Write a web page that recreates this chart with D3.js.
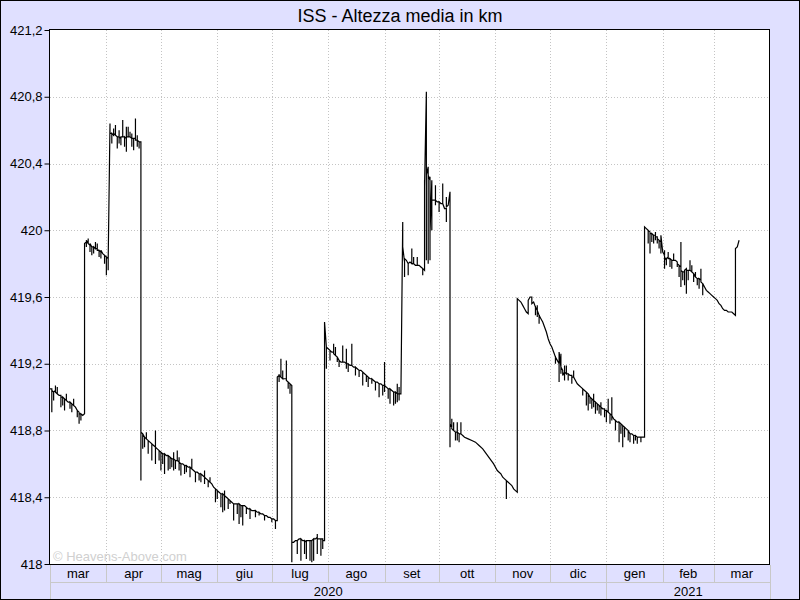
<!DOCTYPE html>
<html><head><meta charset="utf-8">
<script src="https://cdn.jsdelivr.net/npm/d3@7"></script>
<style>
html,body{margin:0;padding:0;background:#fff}
svg{display:block;font-family:Arial,"Liberation Sans",sans-serif}
</style></head><body>
<svg id="chart" width="800" height="600"></svg>
<script>
const chartTitle = "ISS - Altezza media in km";
const watermark = "\u00a9 Heavens-Above.com";
const monthLabels = ["gen","feb","mar","apr","mag","giu","lug","ago","set","ott","nov","dic"];
const yTicks = [418, 418.4, 418.8, 419.2, 419.6, 420, 420.4, 420.8, 421.2];
const yDomain = [418, 421.2];
const xDomain = ["2020-03-01", "2021-04-01"];

// Each row: date, then the altitude readings (km) of that day
const seg1 = [
["2020-03-01",419.05],["2020-03-02",419.05,418.91,419.04],["2020-03-03",419.03,418.98,419.03],
["2020-03-04",419.04,419.07,419.03],["2020-03-05",419.02,419.06,419.02],["2020-03-06",419.01],
["2020-03-07",419.01,418.94,419.00],["2020-03-08",419.00,418.95,419.00],["2020-03-09",418.99,418.92,418.99],
["2020-03-10",418.98,419.02,418.98],["2020-03-11",418.97],["2020-03-12",418.97,418.93,418.97],
["2020-03-13",418.96,418.91,418.96],["2020-03-14",418.95,418.99,418.95],["2020-03-15",418.94],
["2020-03-16",418.92,418.88,418.92],["2020-03-17",418.91,418.84,418.90],
["2020-03-18",418.90,418.86,418.90],["2020-03-19",418.89],["2020-03-20",418.90]
];
const seg2 = [
["2020-03-20",419.35,419.92],["2020-03-21",419.93,419.90,419.94],["2020-03-22",419.92,419.95,419.92],
["2020-03-23",419.91,419.87,419.92],["2020-03-24",419.90,419.85,419.90],["2020-03-25",419.90,419.86,419.90],
["2020-03-26",419.89,419.93,419.89],["2020-03-27",419.89,419.92,419.88],["2020-03-28",419.88,419.84,419.88],
["2020-03-29",419.87,419.83,419.88],["2020-03-30",419.86],["2020-03-31",419.85,419.80,419.85],
["2020-04-01",419.84,419.73,419.84],["2020-04-02",419.83,419.76,419.82]
];
const seg3 = [
["2020-04-03",420.64,420.58],["2020-04-04",420.58,420.52,420.58],["2020-04-05",420.57,420.61,420.57],
["2020-04-06",420.58,420.63,420.57],["2020-04-07",420.56,420.49,420.56],["2020-04-08",420.56,420.60,420.52,420.56],
["2020-04-09",420.55,420.51,420.56],["2020-04-10",420.56,420.66,420.56],["2020-04-11",420.56,420.50,420.56],
["2020-04-12",420.55,420.47,420.55,420.62,420.56],["2020-04-13",420.56,420.62,420.56],
["2020-04-14",420.56,420.59,420.56],["2020-04-15",420.55,420.50,420.58,420.55],["2020-04-16",420.55,420.48,420.55],
["2020-04-17",420.55,420.67,420.54],["2020-04-18",420.54,420.50,420.57,420.54],["2020-04-19",420.53,420.49,420.53],
["2020-04-20",420.53]
];
const seg4 = [
["2020-04-20",418.79,418.50,418.79],["2020-04-21",418.78,418.69,418.78],["2020-04-22",418.76,418.70,418.76],
["2020-04-23",418.75,418.79,418.75],["2020-04-24",418.74,418.66,418.74],["2020-04-25",418.73],
["2020-04-26",418.72,418.62,418.72],["2020-04-27",418.71],["2020-04-28",418.70,418.80,418.60,418.70],
["2020-04-29",418.69],["2020-04-30",418.68,418.62,418.68],["2020-05-01",418.67,418.56,418.67],
["2020-05-02",418.66,418.60,418.66],["2020-05-03",418.66,418.54,418.66],["2020-05-04",418.65],
["2020-05-05",418.65,418.56,418.65],["2020-05-06",418.64,418.57,418.64],["2020-05-07",418.63,418.58,418.63],
["2020-05-08",418.63,418.67,418.56,418.63],["2020-05-09",418.62,418.57,418.62],["2020-05-10",418.62,418.68,418.62],
["2020-05-11",418.61,418.64,418.56,418.61],["2020-05-12",418.60,418.53,418.60],["2020-05-13",418.60],
["2020-05-14",418.59,418.54,418.59],["2020-05-15",418.59,418.55,418.59],["2020-05-16",418.58],
["2020-05-17",418.58,418.52,418.58],["2020-05-18",418.57,418.63,418.57],["2020-05-19",418.56],
["2020-05-20",418.55,418.49,418.55],["2020-05-21",418.55],["2020-05-22",418.54,418.50,418.54],
["2020-05-23",418.54,418.49,418.54],["2020-05-24",418.53],["2020-05-25",418.52,418.56,418.48,418.52],
["2020-05-26",418.51],["2020-05-27",418.50,418.46,418.50],["2020-05-28",418.49,418.52,418.49],
["2020-05-29",418.48],["2020-05-30",418.46],["2020-05-31",418.45,418.37,418.45],
["2020-06-01",418.44,418.39,418.44],["2020-06-02",418.43],["2020-06-03",418.42,418.34,418.42],
["2020-06-04",418.42,418.31,418.42],["2020-06-05",418.41,418.44,418.32,418.41],["2020-06-06",418.40],
["2020-06-07",418.39,418.33,418.39],["2020-06-08",418.38,418.36,418.38],["2020-06-09",418.37],
["2020-06-10",418.36,418.26,418.36],["2020-06-11",418.36],["2020-06-12",418.36,418.30,418.36],
["2020-06-13",418.36,418.24,418.36],["2020-06-14",418.35,418.28,418.35],["2020-06-15",418.35,418.23,418.35],
["2020-06-16",418.35],["2020-06-17",418.34,418.30,418.34],["2020-06-18",418.33],
["2020-06-19",418.33,418.27,418.33],["2020-06-20",418.32],["2020-06-21",418.32],
["2020-06-22",418.32,418.28,418.32],["2020-06-23",418.31],["2020-06-24",418.31,418.29,418.31],
["2020-06-25",418.30],["2020-06-26",418.30],["2020-06-27",418.29,418.26,418.29],["2020-06-28",418.29],
["2020-06-29",418.28],["2020-06-30",418.28],["2020-07-01",418.27,418.25,418.27],
["2020-07-02",418.27],["2020-07-03",418.26,418.21,418.26],["2020-07-04",418.26]
];
const seg5 = [
["2020-07-04",419.12],["2020-07-05",419.13,419.09,419.13],["2020-07-06",419.12,419.23,419.12],
["2020-07-07",419.11,419.16,419.11],["2020-07-08",419.11],["2020-07-09",419.11,419.22,419.10],
["2020-07-10",419.09,419.05,419.09],["2020-07-11",419.08,419.02,419.08],["2020-07-12",419.07]
];
const seg6 = [
["2020-07-12",418.01,418.13],["2020-07-13",418.13],["2020-07-14",418.14],
["2020-07-15",418.14,418.06,418.14],["2020-07-16",418.15],["2020-07-17",418.15,418.02,418.15],
["2020-07-18",418.14],["2020-07-19",418.14,418.06,418.14],["2020-07-20",418.13,418.03,418.14],
["2020-07-21",418.14],["2020-07-22",418.14,418.02,418.14],["2020-07-23",418.14,418.01,418.14],
["2020-07-24",418.15,418.02,418.15],["2020-07-25",418.15],["2020-07-26",418.16,418.18,418.06,418.15],
["2020-07-27",418.15],["2020-07-28",418.15,418.05,418.15],["2020-07-29",418.15,418.09,418.14],
["2020-07-30",418.14]
];
const seg7 = [
["2020-07-30",419.36,419.45],["2020-07-31",419.30,419.17,419.30],["2020-08-01",419.29],
["2020-08-02",419.28,419.22,419.28],["2020-08-03",419.27],["2020-08-04",419.27,419.32,419.26],
["2020-08-05",419.25,419.30,419.25],["2020-08-06",419.24,419.21,419.24],["2020-08-07",419.22,419.18,419.22],
["2020-08-08",419.21],["2020-08-09",419.21,419.31,419.21],["2020-08-10",419.21],
["2020-08-11",419.20,419.29,419.17,419.20],["2020-08-12",419.20,419.15,419.20],["2020-08-13",419.19],
["2020-08-14",419.19,419.32,419.19],["2020-08-15",419.18],["2020-08-16",419.18,419.13,419.18],
["2020-08-17",419.17],["2020-08-18",419.16,419.12,419.16],["2020-08-19",419.16],
["2020-08-20",419.15,419.07,419.15],["2020-08-21",419.14],["2020-08-22",419.13,419.09,419.13],
["2020-08-23",419.12,419.06,419.12],["2020-08-24",419.11],["2020-08-25",419.11,419.08,419.11],
["2020-08-26",419.10],["2020-08-27",419.09,419.04,419.09],["2020-08-28",419.09],
["2020-08-29",419.08,419.00,419.08],["2020-08-30",419.08],["2020-08-31",419.07,419.01,419.07],
["2020-09-01",419.07,419.21,419.03,419.07],["2020-09-02",419.06],["2020-09-03",419.05,418.99,419.05],
["2020-09-04",419.05,418.96,419.05],["2020-09-05",419.04],["2020-09-06",419.03,418.95,419.03],
["2020-09-07",419.03,418.96,419.03],["2020-09-08",419.02,419.08,418.97,419.02],["2020-09-09",419.02,419.06,418.98,419.02],
["2020-09-10",419.02]
];
const seg8 = [
["2020-09-11",420.05,419.90],["2020-09-12",419.81,419.72,419.83],["2020-09-13",419.82],
["2020-09-14",419.80,419.73,419.80],["2020-09-15",419.81],["2020-09-16",419.80,419.89,419.80],
["2020-09-17",419.80,419.84,419.80],["2020-09-18",419.79],["2020-09-19",419.79,419.84,419.79],
["2020-09-20",419.79],["2020-09-21",419.78],["2020-09-22",419.77,419.73,419.77],
["2020-09-23",419.76,420.05,420.30,419.85,420.30,419.90,420.28,419.88,420.26],
["2020-09-24",420.83,420.25,419.82,420.30,419.85,420.32,419.84,420.34,419.83,420.33],
["2020-09-25",420.38,419.80,420.35,419.82,420.34,419.86,420.36,419.81,420.33],
["2020-09-26",420.30,419.82,420.32,419.90,420.30,419.95,420.29,419.98],
["2020-09-27",420.30,420.00,420.25,420.06,420.22,420.18],["2020-09-28",420.18],
["2020-09-29",420.18,420.27,420.15,420.18],["2020-09-30",420.17],
["2020-10-01",420.17,420.11,420.17],["2020-10-02",420.16],["2020-10-03",420.16,420.28,420.16],
["2020-10-04",420.13],["2020-10-05",420.13,420.05,420.20,420.14],["2020-10-06",420.15],
["2020-10-07",420.23]
];
const seg9 = [
["2020-10-07",418.86,418.70,418.84],["2020-10-08",418.82,418.87,418.81],
["2020-10-09",418.80,418.85,418.80],["2020-10-10",418.79,418.74,418.79],
["2020-10-11",418.79,418.85,418.74,418.79],["2020-10-12",418.78,418.73,418.78],
["2020-10-13",418.78,418.85,418.78],["2020-10-14",418.77],["2020-10-15",418.76],
["2020-10-17",418.75],["2020-10-19",418.74],["2020-10-21",418.73],["2020-10-23",418.71],
["2020-10-25",418.69],["2020-10-27",418.66],["2020-10-29",418.63],["2020-10-31",418.60],
["2020-11-01",418.58],["2020-11-02",418.56],["2020-11-03",418.55],["2020-11-04",418.54],
["2020-11-05",418.52],["2020-11-06",418.51],["2020-11-07",418.50,418.39,418.50],
["2020-11-08",418.49],["2020-11-09",418.48],["2020-11-10",418.47],["2020-11-11",418.45],
["2020-11-12",418.44],["2020-11-13",418.43]
];
const seg10 = [
["2020-11-13",419.59],["2020-11-14",419.58],["2020-11-15",419.57],["2020-11-16",419.55],
["2020-11-17",419.53],["2020-11-18",419.51],["2020-11-19",419.50,419.58],["2020-11-20",419.60],
["2020-11-21",419.60,419.56],["2020-11-22",419.57],["2020-11-23",419.54,419.49,419.54],
["2020-11-24",419.52,419.55,419.48,419.52],["2020-11-25",419.49,419.44,419.49],["2020-11-26",419.47],
["2020-11-27",419.45],["2020-11-28",419.42],["2020-11-29",419.39],["2020-11-30",419.35],
["2020-12-01",419.32],["2020-12-02",419.30],["2020-12-03",419.27],["2020-12-04",419.24,419.20,419.24],
["2020-12-05",419.22],["2020-12-06",419.20,419.09,419.21,419.27],["2020-12-07",419.18,419.26,419.14,419.18],
["2020-12-08",419.16,419.13],["2020-12-09",419.15,419.10,419.19,419.15],["2020-12-10",419.14,419.19,419.14],
["2020-12-11",419.14,419.10,419.14],["2020-12-12",419.13],["2020-12-13",419.13,419.08,419.12],
["2020-12-14",419.12,419.16,419.12],["2020-12-15",419.10],["2020-12-16",419.08],["2020-12-17",419.07],
["2020-12-18",419.06],["2020-12-19",419.05,419.01,419.05],["2020-12-20",419.04],
["2020-12-21",419.03,418.95,419.03],["2020-12-22",419.02,418.92,419.02],
["2020-12-23",419.00,418.96,419.00],["2020-12-24",418.99,418.93,418.99],["2020-12-25",418.98,419.02,418.94,418.98],
["2020-12-26",418.97,418.90,418.97],["2020-12-27",418.96,418.92,418.96],["2020-12-28",418.95,418.90,418.95],
["2020-12-29",418.94,418.97,418.89,418.94],["2020-12-30",418.93],["2020-12-31",418.93,418.88,418.92],
["2021-01-01",418.92,418.85,418.92],["2021-01-02",418.91,418.99,418.91],["2021-01-03",418.90,418.84,418.90],
["2021-01-04",418.89,419.00,418.86,418.89],["2021-01-05",418.87],["2021-01-06",418.86,418.80,418.86],
["2021-01-07",418.85],["2021-01-08",418.85,418.73,418.85],["2021-01-09",418.84,418.78,418.84],
["2021-01-10",418.83,418.70,418.83],["2021-01-11",418.82,418.76,418.82],["2021-01-12",418.81],
["2021-01-13",418.80,418.74,418.80],["2021-01-14",418.78,418.73,418.78],["2021-01-15",418.78],
["2021-01-16",418.77,418.72,418.77],["2021-01-17",418.77,418.74,418.77],["2021-01-18",418.76,418.72,418.76],
["2021-01-19",418.76],["2021-01-20",418.76,418.73,418.76],["2021-01-21",418.76],
["2021-01-22",418.76]
];
const seg11 = [
["2021-01-22",420.02],["2021-01-23",420.01],["2021-01-24",420.00,419.92,420.00],
["2021-01-25",419.99,419.86,419.98],["2021-01-26",419.98,419.93,419.98],["2021-01-27",419.97,419.92,419.97],
["2021-01-28",419.97,419.99,419.94,419.96],["2021-01-29",419.96,419.92,419.95],
["2021-01-30",419.94,419.89,419.94],["2021-01-31",419.93,419.86,419.93,419.97],["2021-02-01",419.87],
["2021-02-02",419.85,419.88,419.77,419.84],["2021-02-03",419.82,419.79,419.83],
["2021-02-04",419.84,419.87,419.83],["2021-02-05",419.83,419.78,419.83],["2021-02-06",419.82,419.77,419.82],
["2021-02-07",419.82,419.86,419.82],["2021-02-08",419.82],["2021-02-09",419.81,419.78,419.80],
["2021-02-10",419.79,419.72,419.79],["2021-02-11",419.78,419.93,419.66,419.76],["2021-02-12",419.75,419.70,419.75],
["2021-02-13",419.75,419.67,419.76],["2021-02-14",419.77,419.62,419.76],["2021-02-15",419.76,419.70,419.76],
["2021-02-16",419.76,419.82,419.76],["2021-02-17",419.75,419.79,419.75],
["2021-02-18",419.74,419.69,419.74],["2021-02-19",419.72,419.75,419.72],
["2021-02-20",419.71,419.67,419.71],["2021-02-21",419.71,419.65,419.71],["2021-02-22",419.70,419.77,419.69],
["2021-02-23",419.68,419.61,419.68],["2021-02-24",419.66],["2021-02-25",419.64],
["2021-02-26",419.63],["2021-02-27",419.62],["2021-02-28",419.61],["2021-03-01",419.60],
["2021-03-02",419.59],["2021-03-03",419.58],["2021-03-04",419.56],["2021-03-05",419.55],
["2021-03-06",419.53],["2021-03-07",419.52],["2021-03-08",419.52],["2021-03-09",419.51],
["2021-03-10",419.51],["2021-03-11",419.51],["2021-03-12",419.50],["2021-03-13",419.49,419.71,419.89],
["2021-03-14",419.90],["2021-03-15",419.94]
];
const segments = [seg1, seg2, seg3, seg4, seg5, seg6, seg7, seg8, seg9, seg10, seg11];

const parse = d3.timeParse("%Y-%m-%d");
const points = segments.flat().flatMap(r => r.slice(1).map(v => ({date: parse(r[0]), v})));

const svg = d3.select("#chart");
const L = 50, R = 770, T = 30, B = 564;
const x = d3.scaleTime().domain(xDomain.map(parse)).range([L, R]);
const y = d3.scaleLinear().domain(yDomain).range([B, T]);
const fmt = v => String(Math.round(v * 10) / 10).replace(".", ",");

svg.append("rect").attr("x", 0.5).attr("y", 0.5).attr("width", 799).attr("height", 599)
  .attr("fill", "#e0e0ff").attr("stroke", "#000");

svg.append("text").attr("x", 400).attr("y", 22).attr("text-anchor", "middle")
  .attr("font-size", 18).attr("fill", "#000").text(chartTitle);

svg.append("rect").attr("x", L).attr("y", T).attr("width", R - L).attr("height", B - T).attr("fill", "#fff");

const months = d3.timeMonth.range(x.domain()[0], x.domain()[1]);
const grid = svg.append("g").attr("stroke", "#c4c4c4").attr("stroke-dasharray", "1,2").attr("shape-rendering", "crispEdges");
grid.selectAll(".h").data(yTicks.slice(1, -1)).join("line")
  .attr("x1", L).attr("x2", R).attr("y1", d => Math.round(y(d)) + 0.5).attr("y2", d => Math.round(y(d)) + 0.5);
grid.selectAll(".v").data(months.slice(1)).join("line")
  .attr("y1", T).attr("y2", B).attr("x1", d => Math.round(x(d)) + 0.5).attr("x2", d => Math.round(x(d)) + 0.5);

svg.append("text").attr("x", 53).attr("y", 561).attr("font-size", 13).attr("fill", "#d0d0d0").text(watermark);

svg.append("clipPath").attr("id", "clip").append("rect").attr("x", L).attr("y", T).attr("width", R - L).attr("height", B - T);
const line = d3.line().x(d => x(d.date)).y(d => y(d.v));
svg.append("path").datum(points).attr("clip-path", "url(#clip)")
  .attr("d", line).attr("fill", "none").attr("stroke", "#000").attr("stroke-width", 1.2)
  .attr("stroke-linejoin", "miter");

svg.append("rect").attr("x", L - 0.5).attr("y", T - 0.5).attr("width", R - L).attr("height", B - T + 1)
  .attr("fill", "none").attr("stroke", "#000").attr("shape-rendering", "crispEdges");

const yAxis = d3.axisLeft(y).tickValues(yTicks).tickFormat(fmt).tickSize(5).tickPadding(2);
const ga = svg.append("g").attr("transform", `translate(${L - 0.5},0)`).call(yAxis);
ga.select(".domain").remove();
ga.selectAll("text").attr("font-size", 13).attr("font-family", "Arial, 'Liberation Sans', sans-serif").attr("fill", "#000");
ga.selectAll("line").attr("stroke", "#000");

// month row and year row
const sep = svg.append("g").attr("stroke", "#c8c8c8").attr("shape-rendering", "crispEdges");
const bounds = months.concat([x.domain()[1]]);
sep.selectAll("line.m").data(bounds).join("line")
  .attr("x1", d => Math.round(x(d)) + 0.5).attr("x2", d => Math.round(x(d)) + 0.5).attr("y1", B + 1).attr("y2", 582);
sep.append("line").attr("x1", L).attr("x2", R + 1).attr("y1", 582.5).attr("y2", 582.5);
const years = [x.domain()[0], d3.timeYear.ceil(x.domain()[0]), x.domain()[1]];
sep.selectAll("line.y").data(years).join("line")
  .attr("x1", d => Math.round(x(d)) + 0.5).attr("x2", d => Math.round(x(d)) + 0.5).attr("y1", 582).attr("y2", 599);

svg.append("g").selectAll("text").data(months).join("text")
  .attr("x", d => (x(d) + x(d3.timeMonth.offset(d, 1))) / 2).attr("y", 578)
  .attr("text-anchor", "middle").attr("font-size", 13).attr("fill", "#000")
  .text(d => monthLabels[d.getMonth()]);
svg.append("g").selectAll("text").data(years.slice(0, -1)).join("text")
  .attr("x", (d, i) => (x(d) + x(years[i + 1])) / 2).attr("y", 596)
  .attr("text-anchor", "middle").attr("font-size", 13).attr("fill", "#000")
  .text(d => d.getFullYear());
</script>
</body></html>
